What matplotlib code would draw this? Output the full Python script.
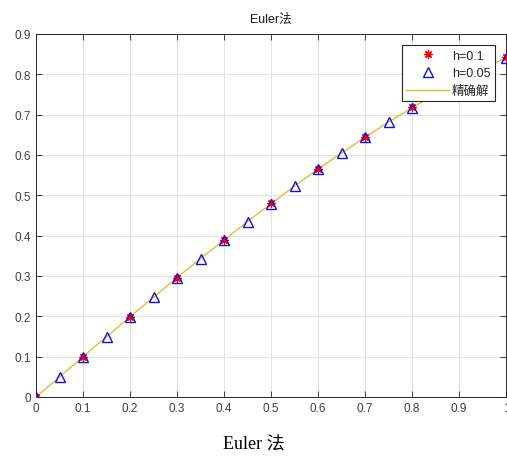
import numpy as np
import matplotlib
matplotlib.use('Agg')
import matplotlib.pyplot as plt

# data
x1 = [0, 0.1, 0.2, 0.3, 0.4, 0.5, 0.6, 0.7, 0.8, 0.9, 1.0]
y1 = [0, 0.100, 0.199, 0.296, 0.390, 0.480, 0.565, 0.645, 0.718, 0.784, 0.842]
x2 = [0, 0.05, 0.1, 0.15, 0.2, 0.25, 0.3, 0.35, 0.4, 0.45, 0.5,
      0.55, 0.6, 0.65, 0.7, 0.75, 0.8, 0.85, 0.9, 0.95, 1.0]
y2 = [0, 0.050, 0.100, 0.149, 0.199, 0.247, 0.296, 0.343, 0.389, 0.435, 0.479,
      0.522, 0.565, 0.605, 0.644, 0.682, 0.717, 0.751, 0.783, 0.813, 0.841]
xe = x2
ye = [0, 0.050, 0.100, 0.149, 0.199, 0.247, 0.296, 0.343, 0.389, 0.435, 0.479,
      0.523, 0.565, 0.605, 0.644, 0.682, 0.717, 0.750, 0.783, 0.813, 0.841]
labels = ['h=0.1', 'h=0.05', '精确解']

sans = ['Liberation Sans', 'Noto Sans CJK SC', 'DejaVu Sans']
plt.rcParams['font.family'] = sans

fig = plt.figure(figsize=(5.07, 4.6), dpi=100)
ax = fig.add_axes([36/507, 62/460, 470/507, 363/460])

ax.plot(xe, ye, color='#EDB120', lw=0.9, zorder=2)
ax.plot(x1, y1, linestyle='none', marker=(8, 2, 0), color='red', ms=6, mew=0.9, zorder=3)
ax.plot(x2, y2, linestyle='none', marker='^', mfc='none', mec='#1010e0', ms=6.5, mew=1.0, zorder=4)

h1 = plt.Line2D([], [], linestyle='none', marker=(8, 2, 0), color='red', ms=6, mew=0.9)
h2 = plt.Line2D([], [], linestyle='none', marker='^', mfc='none', mec='#1010e0', ms=6.5, mew=1.0)
h3 = plt.Line2D([], [], color='#EDB120', lw=0.9)
leg = ax.legend([h1, h2, h3], labels, loc='upper right', fontsize=9,
                fancybox=False, framealpha=1, edgecolor='#262626',
                handlelength=3.4, borderaxespad=0.9, labelspacing=0.45,
                handletextpad=0.25, borderpad=0.35)
leg.get_frame().set_linewidth(0.8)
for t in leg.get_texts():
    t.set_color('#262626')

ax.set_xlim(0, 1)
ax.set_ylim(0, 0.9)
ax.set_xticks(np.arange(0, 1.01, 0.1))
ax.set_yticks(np.arange(0, 0.91, 0.1))
ax.set_xticklabels(['0', '0.1', '0.2', '0.3', '0.4', '0.5', '0.6', '0.7', '0.8', '0.9', '1'])
ax.set_yticklabels(['0', '0.1', '0.2', '0.3', '0.4', '0.5', '0.6', '0.7', '0.8', '0.9'])
ax.grid(True, color='#e3e3e3', lw=0.8)
ax.set_axisbelow(True)
ax.tick_params(direction='in', top=True, right=True, labelsize=8.5,
               colors='#262626', length=4, width=0.6, labelcolor='#404040')
for s in ax.spines.values():
    s.set_color('#262626')
    s.set_linewidth(0.7)

ax.set_title('Euler法', fontsize=9, color='#1a1a1a', pad=9)

fig.text(0.5, 1 - 445/460, 'Euler 法', ha='center', va='center', fontsize=13,
         family=['Liberation Serif', 'Noto Sans CJK SC'])

fig.savefig('out.png', dpi=100)
